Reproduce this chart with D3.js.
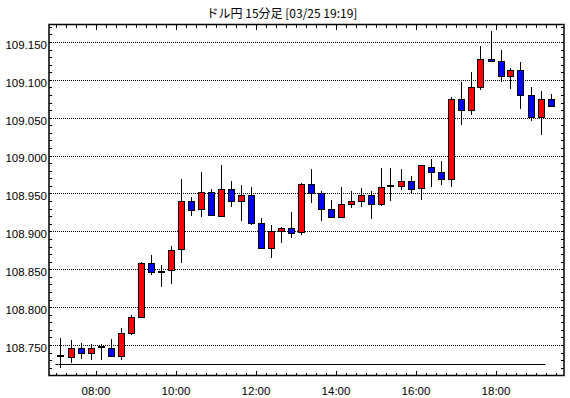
<!DOCTYPE html>
<html>
<head>
<meta charset="utf-8">
<script src="https://cdn.jsdelivr.net/npm/d3@7"></script>
<style>
body{margin:0;background:#fff}
text{font-family:"Liberation Sans",Arial,sans-serif;font-size:11px;fill:#000}
</style>
</head>
<body>
<script>
var w = 570, h = 398;
var plotLeft = 49, plotRight = 564, plotTop = 24.5, plotBottom = 375.5;

var title = "ドル円 15分足 [03/25 19:19]";

// 15 minute candles, 07:00 - 19:15
var times = ["07:00","07:15","07:30","07:45","08:00","08:15","08:30","08:45",
             "09:00","09:15","09:30","09:45","10:00","10:15","10:30","10:45",
             "11:00","11:15","11:30","11:45","12:00","12:15","12:30","12:45",
             "13:00","13:15","13:30","13:45","14:00","14:15","14:30","14:45",
             "15:00","15:15","15:30","15:45","16:00","16:15","16:30","16:45",
             "17:00","17:15","17:30","17:45","18:00","18:15","18:30","18:45",
             "19:00","19:15"];
var open  = [108.735,108.734,108.746,108.739,108.747,108.746,108.736,108.766,
             108.787,108.858,108.847,108.848,108.876,108.940,108.929,108.952,
             108.921,108.956,108.940,108.948,108.911,108.878,108.901,108.905,
             108.898,108.962,108.950,108.930,108.919,108.936,108.940,108.948,
             108.936,108.960,108.960,108.967,108.956,108.985,108.978,108.969,
             109.075,109.061,109.091,109.128,109.125,109.105,109.113,109.080,
             109.051,109.075];
var high  = [108.759,108.756,108.753,108.751,108.751,108.758,108.772,108.789,
             108.859,108.869,108.856,108.881,108.969,108.946,108.979,108.956,
             108.987,108.966,108.961,108.958,108.918,108.909,108.906,108.925,
             108.964,108.982,108.953,108.941,108.958,108.953,108.957,108.953,
             108.984,108.983,108.982,108.973,108.988,108.996,108.993,109.078,
             109.097,109.111,109.145,109.165,109.139,109.116,109.124,109.091,
             109.085,109.082];
var low   = [108.720,108.726,108.732,108.730,108.730,108.734,108.730,108.763,
             108.787,108.842,108.827,108.831,108.858,108.920,108.919,108.920,
             108.920,108.932,108.914,108.908,108.878,108.865,108.884,108.891,
             108.895,108.937,108.914,108.917,108.919,108.931,108.932,108.916,
             108.933,108.940,108.954,108.950,108.942,108.958,108.961,108.958,
             109.040,109.053,109.086,109.125,109.097,109.088,109.061,109.046,
             109.027,109.066];
var close = [108.735,108.746,108.739,108.746,108.747,108.736,108.766,108.787,
             108.858,108.846,108.847,108.875,108.940,108.928,108.952,108.921,
             108.956,108.940,108.948,108.911,108.878,108.901,108.905,108.898,
             108.962,108.950,108.929,108.919,108.936,108.940,108.948,108.936,
             108.959,108.960,108.967,108.956,108.987,108.978,108.969,109.075,
             109.061,109.091,109.128,109.125,109.105,109.113,109.080,109.051,
             109.075,109.066];

var refLine = 108.725;
var yTicks = [108.750,108.800,108.850,108.900,108.950,109.000,109.050,109.100,109.150];
var xLabels = ["08:00","10:00","12:00","14:00","16:00","18:00"];

function toMin(s){ var p = s.split(":"); return +p[0]*60 + +p[1]; }

var data = times.map(function(t,i){
    return {t:toMin(t), o:open[i], h:high[i], l:low[i], c:close[i]};
});

var x = d3.scaleLinear()
          .domain([410.25, 1182.75])
          .range([plotLeft, plotRight]);

var y = d3.scaleLinear()
          .domain([108.7097, 109.1731])
          .range([plotBottom, plotTop]);

var svg = d3.select("body")
            .append("svg")
            .attr("width", w)
            .attr("height", h);

svg.append("text")
    .attr("x", 282)
    .attr("y", 18)
    .attr("text-anchor", "middle")
    .style("font-family", "'Noto Sans CJK JP', sans-serif")
    .style("font-size", "12px")
    .text(title);

// dotted grid
svg.selectAll(".grid")
    .data(yTicks)
    .enter()
    .append("line")
    .attr("x1", plotLeft)
    .attr("x2", plotRight)
    .attr("y1", function(d){ return Math.round(y(d)) + 0.5; })
    .attr("y2", function(d){ return Math.round(y(d)) + 0.5; })
    .attr("stroke", "#000")
    .attr("stroke-dasharray", "1,1");

// ticks
var minorY = d3.range(108.72, 109.1701, 0.01);
var minorX = d3.range(420, 1181, 15);
var majorX = xLabels.map(toMin);

function clean(g){ g.select(".domain").remove(); g.selectAll("line").attr("shape-rendering","crispEdges"); }

svg.append("g").attr("transform","translate("+plotLeft+",0)")
    .call(d3.axisLeft(y).tickValues(minorY).tickSize(-3).tickFormat(""))
    .call(clean);
svg.append("g").attr("transform","translate("+plotRight+",0)")
    .call(d3.axisRight(y).tickValues(minorY).tickSize(-3).tickFormat(""))
    .call(clean);
svg.append("g").attr("transform","translate("+plotLeft+",0)")
    .call(d3.axisLeft(y).tickValues(yTicks).tickSize(0).tickPadding(2).tickFormat(d3.format(".3f")))
    .call(clean)
    .selectAll("text").attr("dy", "0.72em").attr("y", -2)
    .style("font-size","11.5px").style("font-family","'Liberation Sans',Arial,sans-serif");

svg.append("g").attr("transform","translate(0,"+plotBottom+")")
    .call(d3.axisBottom(x).tickValues(minorX).tickSize(-3).tickFormat(""))
    .call(clean);
svg.append("g").attr("transform","translate(0,"+plotTop+")")
    .call(d3.axisTop(x).tickValues(minorX).tickSize(-3).tickFormat(""))
    .call(clean);
svg.append("g").attr("transform","translate(0,"+plotTop+")")
    .call(d3.axisTop(x).tickValues(majorX).tickSize(-5).tickFormat(""))
    .call(clean);
svg.append("g").attr("transform","translate(0,"+plotBottom+")")
    .call(d3.axisBottom(x).tickValues(majorX).tickSize(-5).tickPadding(11)
          .tickFormat(function(d,i){ return xLabels[i]; }))
    .call(clean)
    .selectAll("text")
    .style("font-size","11.5px").style("font-family","'Liberation Sans',Arial,sans-serif");

// reference line
svg.append("line")
    .attr("x1", x(data[0].t))
    .attr("x2", x(data[data.length-1].t))
    .attr("y1", Math.round(y(refLine)) + 0.5)
    .attr("y2", Math.round(y(refLine)) + 0.5)
    .attr("stroke", "#000")
    .attr("stroke-width", 1.2);

// candles
var cx = function(d){ return Math.round(x(d.t + 7.5)) + 0.5; };

var candles = svg.selectAll(".candle")
    .data(data)
    .enter()
    .append("g")
    .attr("shape-rendering", "crispEdges");

candles.append("line")
    .attr("x1", cx).attr("x2", cx)
    .attr("y1", function(d){ return y(d.h); })
    .attr("y2", function(d){ return y(d.l); })
    .attr("stroke", "#000")
    .attr("stroke-width", 1);

candles.filter(function(d){ return d.o != d.c; })
    .append("rect")
    .attr("x", function(d){ return cx(d) - 3; })
    .attr("width", 6)
    .attr("y", function(d){ return Math.round(y(Math.max(d.o,d.c))) + 0.5; })
    .attr("height", function(d){ return Math.max(1, Math.round(Math.abs(y(d.o) - y(d.c)))); })
    .attr("fill", function(d){ return d.c > d.o ? "#ff0000" : "#0000ff"; })
    .attr("stroke", "#000")
    .attr("stroke-width", 1);

candles.filter(function(d){ return d.o == d.c; })
    .append("line")
    .attr("x1", function(d){ return cx(d) - 3.5; })
    .attr("x2", function(d){ return cx(d) + 3.5; })
    .attr("y1", function(d){ return y(d.o); })
    .attr("y2", function(d){ return y(d.o); })
    .attr("stroke", "#000")
    .attr("stroke-width", 2);

// frame
svg.append("rect")
    .attr("x", plotLeft)
    .attr("y", plotTop)
    .attr("width", plotRight - plotLeft)
    .attr("height", plotBottom - plotTop)
    .attr("fill", "none")
    .attr("stroke", "#000")
    .attr("stroke-width", 1.5);
</script>
</body>
</html>
